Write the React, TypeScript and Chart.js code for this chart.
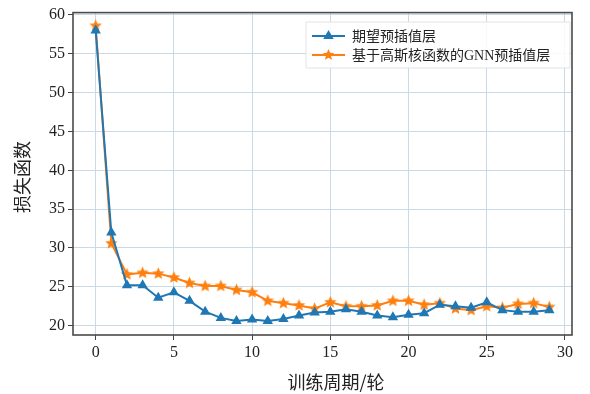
import React, { useEffect, useRef } from "react";
import { Chart, registerables } from "chart.js";
Chart.register(...registerables);

const epochs = [0, 1, 2, 3, 4, 5, 6, 7, 8, 9, 10, 11, 12, 13, 14, 15, 16, 17, 18, 19, 20, 21, 22, 23, 24, 25, 26, 27, 28, 29];
const expectedLoss = [58.0, 32.0, 25.2, 25.2, 23.6, 24.3, 23.2, 21.8, 21.0, 20.6, 20.8, 20.6, 20.85, 21.3, 21.7, 21.8, 22.1, 21.8, 21.3, 21.1, 21.4, 21.6, 22.7, 22.5, 22.3, 23.0, 22.0, 21.8, 21.8, 22.0];
const gnnLoss = [58.6, 30.6, 26.6, 26.8, 26.7, 26.2, 25.5, 25.1, 25.1, 24.6, 24.3, 23.2, 22.9, 22.6, 22.2, 23.0, 22.5, 22.5, 22.6, 23.2, 23.2, 22.7, 22.9, 22.2, 22.0, 22.5, 22.3, 22.8, 22.9, 22.4];
const xTicks = [0, 5, 10, 15, 20, 25, 30];
const yTicks = [20, 25, 30, 35, 40, 45, 50, 55, 60];
const seriesNames = ["期望预插值层", "基于高斯核函数的GNN预插值层"];
const xTitle = "训练周期/轮";
const yTitle = "损失函数";

const BLUE = "#1f77b4";
const ORANGE = "#ff7f0e";
const SERIF = '"Liberation Serif", "Noto Sans CJK SC", serif';
const CJK = '"Noto Sans CJK SC", "Liberation Serif", sans-serif';

function makeStar(color: string, r: number) {
  const size = Math.ceil(r * 2 + 2);
  const c = document.createElement("canvas");
  c.width = size;
  c.height = size;
  const ctx = c.getContext("2d")!;
  drawStar(ctx, size / 2, size / 2, r, color);
  return c;
}

function drawStar(ctx: CanvasRenderingContext2D, cx: number, cy: number, r: number, color: string) {
  const inner = r * 0.45;
  ctx.beginPath();
  for (let i = 0; i < 10; i++) {
    const rad = i % 2 === 0 ? r : inner;
    const a = -Math.PI / 2 + (i * Math.PI) / 5;
    const px = cx + rad * Math.cos(a);
    const py = cy + rad * Math.sin(a);
    if (i === 0) ctx.moveTo(px, py);
    else ctx.lineTo(px, py);
  }
  ctx.closePath();
  ctx.fillStyle = color;
  ctx.fill();
}

function drawTriangle(ctx: CanvasRenderingContext2D, cx: number, cy: number, r: number, color: string) {
  ctx.beginPath();
  ctx.moveTo(cx, cy - r);
  ctx.lineTo(cx + r * 0.866, cy + r * 0.5);
  ctx.lineTo(cx - r * 0.866, cy + r * 0.5);
  ctx.closePath();
  ctx.fillStyle = color;
  ctx.fill();
}

const decorPlugin = {
  id: "decor",
  afterDraw(chart: any) {
    const { ctx, chartArea } = chart;
    const { left, right, top, bottom } = chartArea;
    ctx.save();
    // frame
    ctx.strokeStyle = "#4a4a4a";
    ctx.lineWidth = 1.6;
    ctx.strokeRect(left, top, right - left, bottom - top);

    // legend
    const lx = 306, ly = 22, lw = 264, lh = 46;
    ctx.fillStyle = "rgba(255,255,255,0.85)";
    ctx.strokeStyle = "#e2e2e2";
    ctx.lineWidth = 1;
    ctx.beginPath();
    ctx.rect(lx, ly, lw, lh);
    ctx.fill();
    ctx.stroke();
    const rows = [
      { y: 36, color: BLUE, name: seriesNames[0], tri: true },
      { y: 55, color: ORANGE, name: seriesNames[1], tri: false },
    ];
    for (const row of rows) {
      ctx.strokeStyle = row.color;
      ctx.lineWidth = 2;
      ctx.beginPath();
      ctx.moveTo(312, row.y);
      ctx.lineTo(345, row.y);
      ctx.stroke();
      if (row.tri) drawTriangle(ctx, 328.5, row.y, 6, row.color);
      else drawStar(ctx, 328.5, row.y, 6, row.color);
      ctx.fillStyle = "#222";
      ctx.font = `14px ${SERIF}`;
      ctx.textBaseline = "middle";
      ctx.textAlign = "left";
      ctx.fillText(row.name, 352, row.y + 1);
    }

    // axis titles
    ctx.fillStyle = "#222";
    ctx.font = `18px ${CJK}`;
    ctx.textAlign = "center";
    ctx.textBaseline = "middle";
    ctx.fillText(xTitle, 336, 382);
    ctx.save();
    ctx.translate(22, 177);
    ctx.rotate(-Math.PI / 2);
    ctx.fillText(yTitle, 0, 0);
    ctx.restore();
    ctx.restore();
  },
};

export default function App() {
  const ref = useRef<HTMLCanvasElement>(null);
  useEffect(() => {
    if (!ref.current) return;
    const star = makeStar(ORANGE, 6.5);
    const chart = new Chart(ref.current, {
      type: "line",
      data: {
        datasets: [
          {
            label: seriesNames[0],
            data: epochs.map((e, i) => ({ x: e, y: expectedLoss[i] })),
            borderColor: BLUE,
            backgroundColor: BLUE,
            borderWidth: 2,
            pointStyle: "triangle",
            pointRadius: 6,
            pointBorderWidth: 0,
            tension: 0,
          },
          {
            label: seriesNames[1],
            data: epochs.map((e, i) => ({ x: e, y: gnnLoss[i] })),
            borderColor: ORANGE,
            backgroundColor: ORANGE,
            borderWidth: 2,
            pointStyle: star as any,
            pointRadius: 6.5,
            tension: 0,
          },
        ],
      },
      options: {
        animation: false,
        responsive: false,
        devicePixelRatio: 1,
        layout: { padding: { top: 11, right: 18, left: 0, bottom: 0 } },
        plugins: { legend: { display: false }, tooltip: { enabled: false } },
        scales: {
          x: {
            type: "linear",
            min: -1.45,
            max: 30.45,
            afterBuildTicks: (s: any) => {
              s.ticks = xTicks.map((v) => ({ value: v }));
            },
            afterFit: (s: any) => {
              s.height = 59;
            },
            grid: { color: "#c9d9e6", lineWidth: 1, tickLength: 5, tickColor: "#444", drawOnChartArea: true },
            border: { display: false },
            ticks: { color: "#222", font: { family: SERIF, size: 16 }, padding: 3, maxRotation: 0 },
          },
          y: {
            type: "linear",
            min: 18.8,
            max: 60.3,
            afterBuildTicks: (s: any) => {
              s.ticks = yTicks.map((v) => ({ value: v }));
            },
            afterFit: (s: any) => {
              s.width = 73;
            },
            grid: { color: "#c9d9e6", lineWidth: 1, tickLength: 5, tickColor: "#444" },
            border: { display: false },
            ticks: { color: "#222", font: { family: SERIF, size: 16 }, padding: 3 },
          },
        },
      },
      plugins: [decorPlugin],
    });
    return () => chart.destroy();
  }, []);
  return (
    <div style={{ position: "absolute", left: 0, top: 0, width: 590, height: 394, background: "#fff" }}>
      <canvas ref={ref} width={590} height={394} style={{ width: 590, height: 394 }} />
    </div>
  );
}
